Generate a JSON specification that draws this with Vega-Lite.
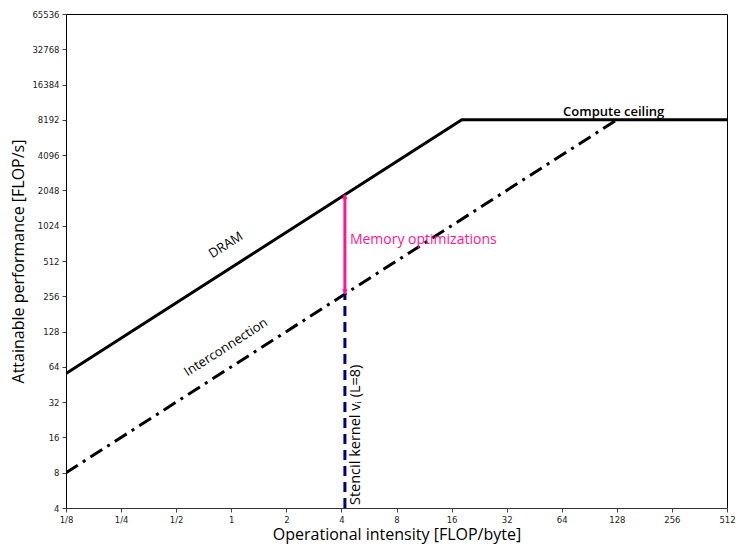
{
  "$schema": "https://vega.github.io/schema/vega-lite/v6.json",
  "width": 661,
  "height": 494,
  "autosize": {"type": "none"},
  "padding": {"left": 66, "top": 14, "right": 9, "bottom": 43},
  "background": "white",
  "config": {
    "view": {"stroke": "black", "strokeWidth": 1},
    "axis": {"grid": false, "labelFont": "DejaVu Sans", "labelFontSize": 8.5, "labelColor": "#222", "titleFont": "Open Sans", "titleFontSize": 16, "titleFontWeight": "normal", "titleColor": "black", "tickColor": "#444", "tickSize": 4, "domainColor": "#333", "labelPadding": 3}
  },
  "datasets": {
    "roof": [
      {"x": 0.125, "y": 56.25},
      {"x": 18.2, "y": 8192},
      {"x": 512, "y": 8192}
    ],
    "inter": [
      {"x": 0.125, "y": 8},
      {"x": 128, "y": 8192}
    ],
    "stencil": [
      {"x": 4.18, "y": 4},
      {"x": 4.18, "y": 267}
    ],
    "mem": [
      {"x": 4.18, "y": 267},
      {"x": 4.18, "y": 1880}
    ],
    "arrows": [
      {"x": 4.18, "y": 1800, "s": "triangle-up"},
      {"x": 4.18, "y": 280, "s": "triangle-down"}
    ],
    "labels": [
      {"x": 0.935, "y": 700, "t": "DRAM"},
      {"x": 0.935, "y": 94, "t": "Interconnection"}
    ]
  },
  "layer": [
    {
      "data": {"name": "roof"},
      "mark": {"type": "line", "color": "black", "strokeWidth": 3, "clip": true},
      "encoding": {
        "x": {"field": "x", "type": "quantitative", "scale": {"type": "log", "base": 2, "domain": [0.125, 512], "nice": false},
          "axis": {"values": [0.125, 0.25, 0.5, 1, 2, 4, 8, 16, 32, 64, 128, 256, 512], "labelExpr": "datum.value == 0.125 ? '1/8' : datum.value == 0.25 ? '1/4' : datum.value == 0.5 ? '1/2' : datum.label", "title": "Operational intensity [FLOP/byte]", "titlePadding": 3, "labelFlush": false, "labelOverlap": false}},
        "y": {"field": "y", "type": "quantitative", "scale": {"type": "log", "base": 2, "domain": [4, 65536], "nice": false},
          "axis": {"values": [4, 8, 16, 32, 64, 128, 256, 512, 1024, 2048, 4096, 8192, 16384, 32768, 65536], "format": "d", "title": "Attainable performance [FLOP/s]", "titlePadding": 5, "labelFlush": false, "labelOverlap": false, "domainColor": "black"}}
      }
    },
    {
      "data": {"name": "inter"},
      "mark": {"type": "line", "color": "black", "strokeWidth": 3, "strokeDash": [14, 6, 3, 6], "clip": true},
      "encoding": {"x": {"field": "x", "type": "quantitative"}, "y": {"field": "y", "type": "quantitative"}}
    },
    {
      "data": {"name": "stencil"},
      "mark": {"type": "line", "color": "#000080", "strokeWidth": 3, "strokeDash": [10, 6]},
      "encoding": {"x": {"field": "x", "type": "quantitative"}, "y": {"field": "y", "type": "quantitative"}}
    },
    {
      "data": {"name": "mem"},
      "mark": {"type": "line", "color": "#ff1493", "strokeWidth": 3},
      "encoding": {"x": {"field": "x", "type": "quantitative"}, "y": {"field": "y", "type": "quantitative"}}
    },
    {
      "data": {"name": "arrows"},
      "mark": {"type": "point", "filled": true, "color": "#ff1493", "size": 30, "opacity": 1},
      "encoding": {"x": {"field": "x", "type": "quantitative"}, "y": {"field": "y", "type": "quantitative"}, "shape": {"field": "s", "type": "nominal", "scale": null, "legend": null}}
    },
    {
      "data": {"name": "labels"},
      "mark": {"type": "text", "angle": -32.6, "font": "Open Sans", "fontSize": 13, "align": "center", "baseline": "middle"},
      "encoding": {"x": {"field": "x", "type": "quantitative"}, "y": {"field": "y", "type": "quantitative"}, "text": {"field": "t"}}
    },
    {
      "data": {"values": [{"x": 4.45, "y": 772, "t": "Memory optimizations"}]},
      "mark": {"type": "text", "font": "Open Sans", "fontSize": 14, "align": "left", "baseline": "middle", "color": "#ff1493"},
      "encoding": {"x": {"field": "x", "type": "quantitative"}, "y": {"field": "y", "type": "quantitative"}, "text": {"field": "t"}}
    },
    {
      "data": {"values": [{"x": 123, "y": 9540, "t": "Compute ceiling"}]},
      "mark": {"type": "text", "font": "Open Sans", "fontSize": 13, "fontWeight": 600, "align": "center", "baseline": "middle", "color": "black"},
      "encoding": {"x": {"field": "x", "type": "quantitative"}, "y": {"field": "y", "type": "quantitative"}, "text": {"field": "t"}}
    },
    {
      "data": {"values": [{"x": 4.8, "y": 4.24, "t": "Stencil kernel vᵢ (L=8)"}]},
      "mark": {"type": "text", "font": "Open Sans", "fontSize": 14.5, "angle": -90, "align": "left", "baseline": "middle", "color": "black"},
      "encoding": {"x": {"field": "x", "type": "quantitative"}, "y": {"field": "y", "type": "quantitative"}, "text": {"field": "t"}}
    }
  ]
}
